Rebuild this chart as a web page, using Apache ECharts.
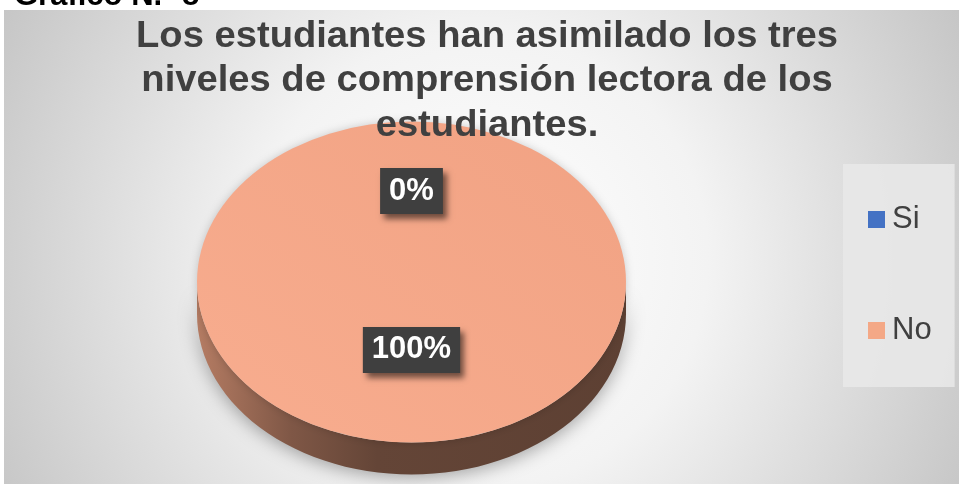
<!DOCTYPE html>
<html>
<head>
<meta charset="utf-8">
<style>
  html, body { margin: 0; padding: 0; background: #fff; }
  #chart { width: 960px; height: 484px; }
</style>
<script src="https://cdn.jsdelivr.net/npm/echarts@6/dist/echarts.min.js"></script>
</head>
<body>
<div id="chart"></div>
<script>
// data
var categories = ['Si', 'No'];
var values = [0, 100];
var colors = ['#4472c4', '#f4a886'];
var titleLines = [
  'Los estudiantes han asimilado los tres',
  'niveles de comprensión lectora de los',
  'estudiantes.'
];
var caption = 'Gráfico N.º 8';

var FONT = "'Liberation Sans', Arial, Helvetica, sans-serif";
var total = values.reduce(function (a, b) { return a + b; }, 0);
// top face ellipse + extrusion depth
var pie = { cx: 411.5, cy: 282, rx: 214.5, ry: 160.5, depth: 32 };

function startOf(i) {
  var s = 0;
  for (var k = 0; k < i; k++) s += values[k];
  return s;
}

// front wall of a slice (only the part facing the viewer, angles 0..PI)
function sidePolys(a0, a1) {
  var polys = [];
  for (var k = -1; k <= 1; k++) {
    var lo = Math.max(a0, 2 * Math.PI * k);
    var hi = Math.min(a1, 2 * Math.PI * k + Math.PI);
    if (hi <= lo) continue;
    var pts = [], n = 60, t, j;
    for (j = 0; j <= n; j++) {
      t = lo + (hi - lo) * j / n;
      pts.push([pie.cx + pie.rx * Math.cos(t), pie.cy + pie.ry * Math.sin(t)]);
    }
    for (j = n; j >= 0; j--) {
      t = lo + (hi - lo) * j / n;
      pts.push([pie.cx + pie.rx * Math.cos(t), pie.cy + pie.depth + pie.ry * Math.sin(t)]);
    }
    polys.push(pts);
  }
  return polys;
}

function shade(hex, f) {
  var n = parseInt(hex.slice(1), 16);
  var r = Math.round(((n >> 16) & 255) * f), g = Math.round(((n >> 8) & 255) * f), b = Math.round((n & 255) * f);
  return 'rgb(' + r + ',' + g + ',' + b + ')';
}

function makeRender(idx) {
  return function (params, api) {
    var v = api.value(0);
    var a0 = -Math.PI / 2 + startOf(idx) / total * 2 * Math.PI;
    var a1 = a0 + v / total * 2 * Math.PI;
    var mid = (a0 + a1) / 2;
    var base = colors[idx];
    var children = [];

    sidePolys(a0, a1).forEach(function (pts) {
      children.push({
        type: 'polygon',
        shape: { points: pts },
        z2: 0,
        style: {
          fill: new echarts.graphic.LinearGradient(pie.cx - pie.rx, 0, pie.cx + pie.rx, 0, [
            { offset: 0, color: shade(base, 0.74) },
            { offset: 0.22, color: shade(base, 0.52) },
            { offset: 0.42, color: shade(base, 0.41) },
            { offset: 1, color: shade(base, 0.38) }
          ], true),
          shadowBlur: 18,
          shadowColor: 'rgba(0,0,0,0.35)',
          shadowOffsetY: 3
        }
      });
    });

    if (v > 0) {
      children.push({
        type: 'sector',
        shape: { cx: pie.cx, cy: pie.cy, r: pie.rx, r0: 0, startAngle: a0, endAngle: a1, clockwise: true },
        originX: pie.cx,
        originY: pie.cy,
        scaleY: pie.ry / pie.rx,
        z2: 10,
        style: {
          fill: new echarts.graphic.LinearGradient(0, 1, 1, 0, [
            { offset: 0, color: '#f8ad8f' },
            { offset: 1, color: '#f1a283' }
          ]),
          shadowBlur: 8,
          shadowColor: 'rgba(0,0,0,0.18)'
        }
      });
    }

    var pct = Math.round(v / total * 100) + '%';
    children.push({
      type: 'text',
      x: pie.cx + 0.495 * pie.rx * Math.cos(mid),
      y: pie.cy - 11.5 + 0.495 * pie.ry * Math.sin(mid),
      z2: 20,
      style: {
        text: pct,
        fill: '#ffffff',
        font: 'bold 31px ' + FONT,
        align: 'center', verticalAlign: 'middle',
        textAlign: 'center', textVerticalAlign: 'middle',
        lineHeight: 32,
        backgroundColor: '#3f3f3f',
        padding: [7, 9, 7, 9],
        shadowBlur: 6,
        shadowColor: 'rgba(0,0,0,0.55)',
        shadowOffsetX: 4,
        shadowOffsetY: 5
      }
    });

    return { type: 'group', children: children };
  };
}

var series = categories.map(function (name, i) {
  return {
    type: 'custom',
    name: name,
    coordinateSystem: 'none',
    silent: true,
    itemStyle: { color: colors[i] },
    data: [[values[i]]],
    renderItem: makeRender(i)
  };
});

var chart = echarts.init(document.getElementById('chart'), null, { renderer: 'canvas' });
chart.setOption({
  animation: false,
  graphic: [
    {
      type: 'text', x: 14, y: -4, z: -20,
      style: { text: caption, font: 'bold 31px ' + FONT, fill: '#000',
        textVerticalAlign: 'middle', verticalAlign: 'middle' }
    },
    {
      type: 'rect', z: -10,
      shape: { x: 4, y: 10, width: 955, height: 474 },
      style: {
        fill: new echarts.graphic.RadialGradient(480, 260, 600, [
          { offset: 0, color: '#ffffff' },
          { offset: 0.38, color: '#f3f3f3' },
          { offset: 1, color: '#bdbdbd' }
        ], true)
      }
    },
    {
      type: 'text', x: 487, y: 14.5, z: 100, scaleX: 1.06,
      style: {
        text: titleLines.join('\n'),
        font: 'bold 36px ' + FONT,
        fill: '#404040',
        lineHeight: 44.5,
        align: 'center', textAlign: 'center',
        verticalAlign: 'top', textVerticalAlign: 'top'
      }
    }
  ],
  legend: {
    orient: 'vertical',
    left: 843,
    top: 164,
    padding: [39.5, 23, 40.5, 25],
    itemWidth: 17,
    itemHeight: 17,
    itemGap: 79,
    icon: 'rect',
    backgroundColor: 'rgba(232,232,232,0.9)',
    textStyle: { fontSize: 31, color: '#404040', fontFamily: FONT, lineHeight: 32, padding: [0, 0, 0, 2] },
    data: categories.map(function (c, i) { return { name: c, itemStyle: { color: colors[i] } }; })
  },
  series: series
});
</script>
</body>
</html>
